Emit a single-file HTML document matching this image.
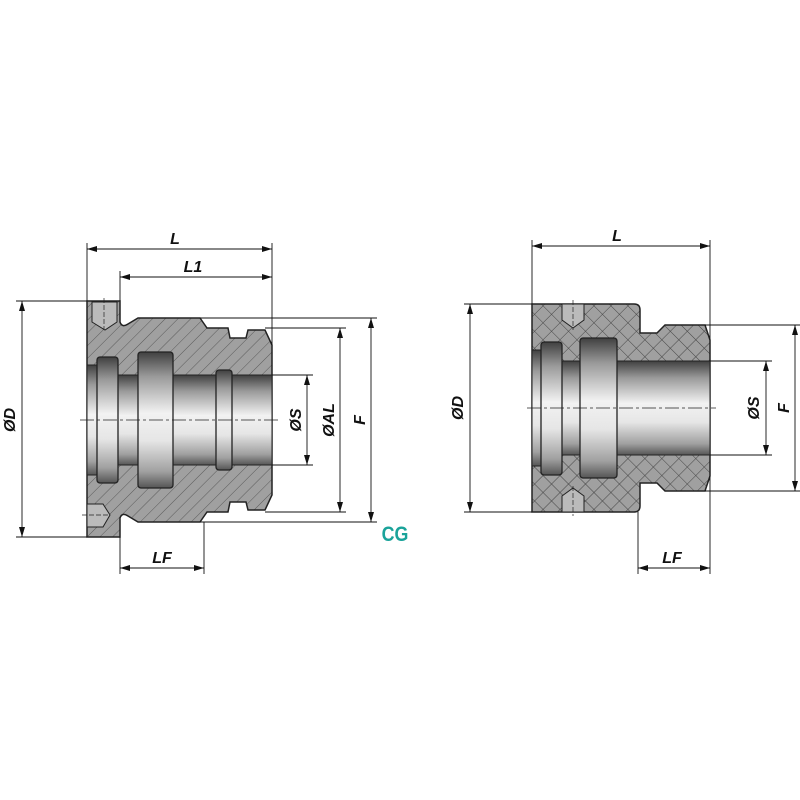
<!DOCTYPE html>
<html><head><meta charset="utf-8"><style>
html,body{margin:0;padding:0;background:#fff;}
svg{display:block}
text{font-family:"Liberation Sans",sans-serif;font-weight:bold;font-style:italic;font-size:16px;fill:#111}
</style></head><body>
<svg width="800" height="800" viewBox="0 0 800 800" xmlns="http://www.w3.org/2000/svg">
<defs>
<pattern id="hatch" width="9" height="9" patternUnits="userSpaceOnUse" patternTransform="rotate(45)">
<rect width="9" height="9" fill="#a0a0a0"/><line x1="0" y1="0" x2="0" y2="9" stroke="#5a5a5a" stroke-width="1"/></pattern>
<pattern id="xhatch" width="12" height="12" patternUnits="userSpaceOnUse" patternTransform="rotate(45)">
<rect width="12" height="12" fill="#a0a0a0"/><line x1="0" y1="0" x2="0" y2="12" stroke="#444" stroke-width="1"/><line x1="0" y1="0" x2="12" y2="0" stroke="#444" stroke-width="1"/></pattern>
<linearGradient id="metal" x1="0" y1="0" x2="0" y2="1">
<stop offset="0" stop-color="#404040"/><stop offset="0.18" stop-color="#9a9a9a"/><stop offset="0.45" stop-color="#f2f2f2"/><stop offset="0.65" stop-color="#e6e6e6"/><stop offset="0.88" stop-color="#a0a0a0"/><stop offset="1" stop-color="#555"/></linearGradient>
<marker id="ar" viewBox="0 0 10 6" refX="10" refY="3" markerWidth="10" markerHeight="6" orient="auto-start-reverse" markerUnits="userSpaceOnUse"><path d="M0,0 L10,3 L0,6 Z" fill="#111"/></marker>
</defs>

<!-- LEFT -->
<path d="M87,301 L120,301 L120,322 Q122,328 128,324 L138,318 L200,318 L207,328 L228,328 L230,338 L246,338 L248,330 L265,330 L272,345 L272,495 L265,510 L248,510 L246,502 L230,502 L228,512 L207,512 L200,522 L138,522 L128,516 Q122,512 120,518 L120,537 L87,537 Z" fill="url(#hatch)" stroke="#222" stroke-width="1.5"/>
<rect x="87" y="375" width="185" height="90" fill="url(#metal)" stroke="#222" stroke-width="1"/>
<rect x="87" y="365" width="12" height="110" fill="url(#metal)" stroke="#222" stroke-width="1"/>
<rect x="97" y="357" width="21" height="126" rx="3" fill="url(#metal)" stroke="#222" stroke-width="1.3"/>
<rect x="138" y="352" width="35" height="136" rx="3" fill="url(#metal)" stroke="#222" stroke-width="1.3"/>
<rect x="216" y="370" width="16" height="100" rx="3" fill="url(#metal)" stroke="#222" stroke-width="1.3"/>
<path d="M92,302 L117,302 L117,322 L105,330 L92,322 Z" fill="#bbb" stroke="#222" stroke-width="1"/>
<line x1="104" y1="298" x2="104" y2="330" stroke="#222" stroke-width="0.7" stroke-dasharray="5,2"/>
<path d="M87,504 L103,504 L110,515 L103,527 L87,527 Z" fill="#bbb" stroke="#222" stroke-width="1"/>
<line x1="82" y1="515" x2="108" y2="515" stroke="#222" stroke-width="0.7" stroke-dasharray="5,2"/>
<line x1="80" y1="420" x2="278" y2="420" stroke="#222" stroke-width="0.8" stroke-dasharray="14,3,3,3"/>

<g stroke="#111" stroke-width="0.9" fill="none">
<line x1="87" y1="243" x2="87" y2="301"/><line x1="272" y1="243" x2="272" y2="345"/>
<line x1="120" y1="271" x2="120" y2="301"/>
<line x1="87" y1="249" x2="272" y2="249" marker-start="url(#ar)" marker-end="url(#ar)"/>
<line x1="120" y1="277" x2="272" y2="277" marker-start="url(#ar)" marker-end="url(#ar)"/>
<line x1="16" y1="301" x2="87" y2="301"/><line x1="16" y1="537" x2="87" y2="537"/>
<line x1="22" y1="301" x2="22" y2="537" marker-start="url(#ar)" marker-end="url(#ar)"/>
<line x1="272" y1="375" x2="313" y2="375"/><line x1="272" y1="465" x2="313" y2="465"/>
<line x1="307" y1="375" x2="307" y2="465" marker-start="url(#ar)" marker-end="url(#ar)"/>
<line x1="265" y1="328" x2="346" y2="328"/><line x1="265" y1="512" x2="346" y2="512"/>
<line x1="340" y1="328" x2="340" y2="512" marker-start="url(#ar)" marker-end="url(#ar)"/>
<line x1="200" y1="318" x2="377" y2="318"/><line x1="200" y1="522" x2="377" y2="522"/>
<line x1="371" y1="318" x2="371" y2="522" marker-start="url(#ar)" marker-end="url(#ar)"/>
<line x1="120" y1="537" x2="120" y2="574"/><line x1="204" y1="522" x2="204" y2="574"/>
<line x1="120" y1="568" x2="204" y2="568" marker-start="url(#ar)" marker-end="url(#ar)"/>
</g>
<text x="175" y="244" text-anchor="middle">L</text>
<text x="193" y="272" text-anchor="middle">L1</text>
<text x="162" y="563" text-anchor="middle">LF</text>
<text transform="translate(15,420) rotate(-90)" text-anchor="middle">ØD</text>
<text transform="translate(301,420) rotate(-90)" text-anchor="middle">ØS</text>
<text transform="translate(334,420) rotate(-90)" text-anchor="middle">ØAL</text>
<text transform="translate(365,420) rotate(-90)" text-anchor="middle">F</text>
<text x="395" y="541" text-anchor="middle" style="fill:#1aa39a;font-style:normal;font-size:21px" transform="translate(395,0) scale(0.85,1) translate(-395,0)">CG</text>

<!-- RIGHT -->
<path d="M532,304 L634,304 Q640,304 640,310 L640,333 L657,333 L665,325 L705,325 L710,340 L710,476 L705,491 L665,491 L657,483 L640,483 L640,506 Q640,512 634,512 L532,512 Z" fill="url(#xhatch)" stroke="#222" stroke-width="1.5"/>
<rect x="532" y="361" width="178" height="94" fill="url(#metal)" stroke="#222" stroke-width="1"/>
<rect x="532" y="350" width="12" height="116" fill="url(#metal)" stroke="#222" stroke-width="1"/>
<rect x="541" y="342" width="21" height="133" rx="3" fill="url(#metal)" stroke="#222" stroke-width="1.3"/>
<rect x="580" y="338" width="37" height="140" rx="3" fill="url(#metal)" stroke="#222" stroke-width="1.3"/>
<path d="M562,304 L584,304 L584,320 L573,328 L562,320 Z" fill="#bbb" stroke="#222" stroke-width="1"/>
<path d="M562,512 L584,512 L584,496 L573,488 L562,496 Z" fill="#bbb" stroke="#222" stroke-width="1"/>
<line x1="573" y1="300" x2="573" y2="330" stroke="#222" stroke-width="0.7" stroke-dasharray="5,2"/>
<line x1="573" y1="486" x2="573" y2="516" stroke="#222" stroke-width="0.7" stroke-dasharray="5,2"/>
<line x1="527" y1="408" x2="716" y2="408" stroke="#222" stroke-width="0.8" stroke-dasharray="14,3,3,3"/>

<g stroke="#111" stroke-width="0.9" fill="none">
<line x1="532" y1="240" x2="532" y2="304"/><line x1="710" y1="240" x2="710" y2="340"/>
<line x1="532" y1="246" x2="710" y2="246" marker-start="url(#ar)" marker-end="url(#ar)"/>
<line x1="464" y1="304" x2="532" y2="304"/><line x1="464" y1="512" x2="532" y2="512"/>
<line x1="470" y1="304" x2="470" y2="512" marker-start="url(#ar)" marker-end="url(#ar)"/>
<line x1="710" y1="361" x2="772" y2="361"/><line x1="710" y1="455" x2="772" y2="455"/>
<line x1="766" y1="361" x2="766" y2="455" marker-start="url(#ar)" marker-end="url(#ar)"/>
<line x1="705" y1="325" x2="800" y2="325"/><line x1="705" y1="491" x2="800" y2="491"/>
<line x1="795" y1="325" x2="795" y2="491" marker-start="url(#ar)" marker-end="url(#ar)"/>
<line x1="638" y1="512" x2="638" y2="574"/><line x1="710" y1="476" x2="710" y2="574"/>
<line x1="638" y1="568" x2="710" y2="568" marker-start="url(#ar)" marker-end="url(#ar)"/>
</g>
<text x="617" y="241" text-anchor="middle">L</text>
<text x="672" y="563" text-anchor="middle">LF</text>
<text transform="translate(463,408) rotate(-90)" text-anchor="middle">ØD</text>
<text transform="translate(759,408) rotate(-90)" text-anchor="middle">ØS</text>
<text transform="translate(789,408) rotate(-90)" text-anchor="middle">F</text>
</svg>
</body></html>
